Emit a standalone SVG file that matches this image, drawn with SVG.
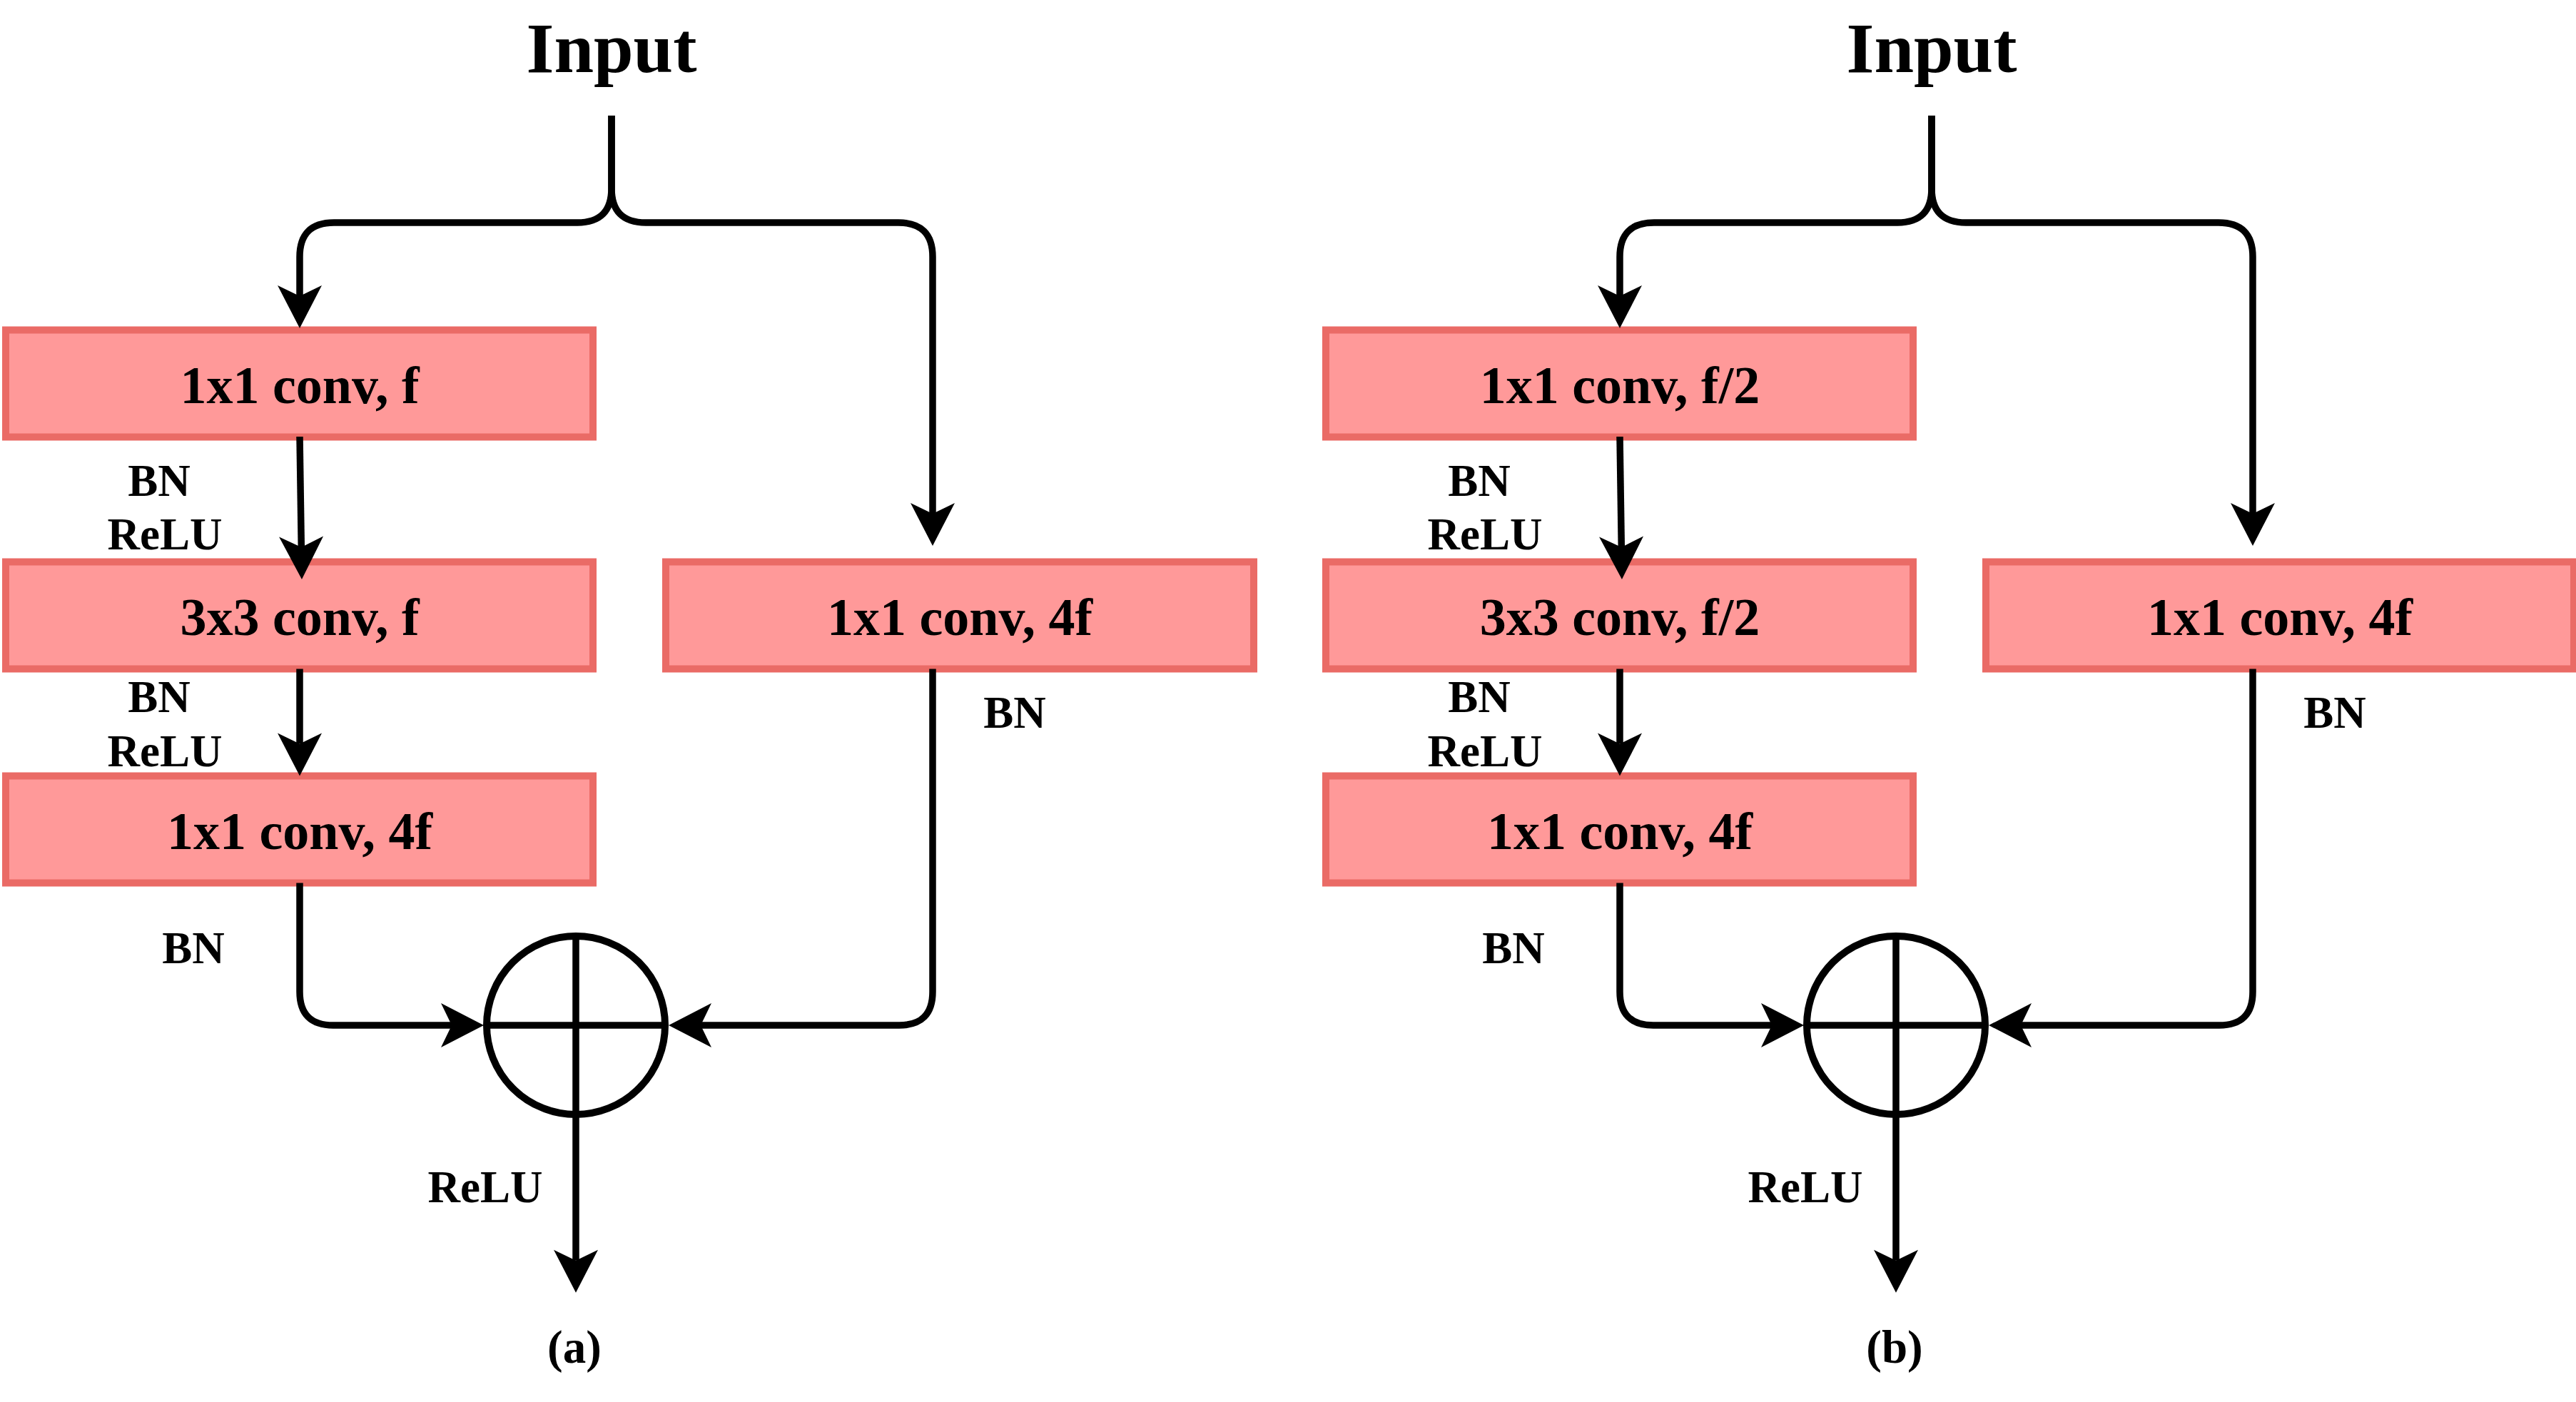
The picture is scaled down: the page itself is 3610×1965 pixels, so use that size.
<svg xmlns="http://www.w3.org/2000/svg" width="3610" height="1965" viewBox="0 0 3610 1965">
<style>
  .box { fill: #FF9999; stroke: #EA6B66; stroke-width: 10; }
  .edge { fill: none; stroke: #000; stroke-width: 9.5; }
  .ring { fill: none; stroke: #000; stroke-width: 10; }
  text { font-family: "Liberation Serif", "Times New Roman", serif; font-weight: bold; fill: #000; text-anchor: middle; }
  .title { font-size: 100px; }
  .lbl { font-size: 74px; }
  .note { font-size: 63px; }
  .cap { font-size: 65px; }
</style>
<defs>
  <marker id="arr" markerUnits="userSpaceOnUse" viewBox="0 0 60 62" markerWidth="60" markerHeight="62" refX="15" refY="31" orient="auto" overflow="visible">
    <path d="M0,0 L60,31 L0,62 L15,31 Z" fill="#000"/>
  </marker>
</defs>
<rect width="3610" height="1965" fill="#fff"/>

<g id="panel-a">
  <g id="a-input"><text class="title" x="857" y="101">Input</text></g>
  <g id="a-conv1"><rect class="box" x="8" y="462.5" width="823" height="150"/><text class="lbl" x="420" y="565">1x1 conv, f</text></g>
  <g id="a-conv2"><rect class="box" x="8" y="787.5" width="823" height="150"/><text class="lbl" x="420" y="890">3x3 conv, f</text></g>
  <g id="a-conv3"><rect class="box" x="8" y="1087.5" width="823" height="150"/><text class="lbl" x="420" y="1190">1x1 conv, 4f</text></g>
  <g id="a-short"><rect class="box" x="933" y="787.5" width="824" height="150"/><text class="lbl" x="1345" y="890">1x1 conv, 4f</text></g>
  <g id="a-add">
    <circle class="ring" cx="807" cy="1437" r="125"/>
    <path class="edge" d="M682,1437 H932 M807,1312 V1562"/>
  </g>
  <g id="a-labels">
    <text class="note" x="223" y="695">BN</text>
    <text class="note" x="231" y="770">ReLU</text>
    <text class="note" x="223" y="998">BN</text>
    <text class="note" x="231" y="1074">ReLU</text>
    <text class="note" x="271" y="1350">BN</text>
    <text class="note" x="1422" y="1020">BN</text>
    <text class="note" x="680" y="1685">ReLU</text>
    <text class="cap" x="805" y="1910">(a)</text>
  </g>
  <g id="a-connectors">
    <path class="edge" marker-end="url(#arr)" d="M857,162 V264 Q857,312 809,312 H468 Q420,312 420,360 V415"/>
    <path class="edge" marker-end="url(#arr)" d="M857,162 V264 Q857,312 905,312 H1259 Q1307,312 1307,360 V720"/>
    <path class="edge" marker-end="url(#arr)" d="M420,612 L422.3,767"/>
    <path class="edge" marker-end="url(#arr)" d="M420,937.5 V1042.5"/>
    <path class="edge" marker-end="url(#arr)" d="M420,1237.5 V1390 Q420,1437 467,1437 H633"/>
    <path class="edge" marker-end="url(#arr)" d="M1307,937.5 V1390 Q1307,1437 1260,1437 H982"/>
    <path class="edge" marker-end="url(#arr)" d="M807,1562 V1766.7"/>
  </g>
</g>

<g id="panel-b" transform="translate(1850,0)">
  <g id="b-input"><text class="title" x="857" y="101">Input</text></g>
  <g id="b-conv1"><rect class="box" x="8" y="462.5" width="823" height="150"/><text class="lbl" x="420" y="565">1x1 conv, f/2</text></g>
  <g id="b-conv2"><rect class="box" x="8" y="787.5" width="823" height="150"/><text class="lbl" x="420" y="890">3x3 conv, f/2</text></g>
  <g id="b-conv3"><rect class="box" x="8" y="1087.5" width="823" height="150"/><text class="lbl" x="420" y="1190">1x1 conv, 4f</text></g>
  <g id="b-short"><rect class="box" x="933" y="787.5" width="824" height="150"/><text class="lbl" x="1345" y="890">1x1 conv, 4f</text></g>
  <g id="b-add">
    <circle class="ring" cx="807" cy="1437" r="125"/>
    <path class="edge" d="M682,1437 H932 M807,1312 V1562"/>
  </g>
  <g id="b-labels">
    <text class="note" x="223" y="695">BN</text>
    <text class="note" x="231" y="770">ReLU</text>
    <text class="note" x="223" y="998">BN</text>
    <text class="note" x="231" y="1074">ReLU</text>
    <text class="note" x="271" y="1350">BN</text>
    <text class="note" x="1422" y="1020">BN</text>
    <text class="note" x="680" y="1685">ReLU</text>
    <text class="cap" x="805" y="1910">(b)</text>
  </g>
  <g id="b-connectors">
    <path class="edge" marker-end="url(#arr)" d="M857,162 V264 Q857,312 809,312 H468 Q420,312 420,360 V415"/>
    <path class="edge" marker-end="url(#arr)" d="M857,162 V264 Q857,312 905,312 H1259 Q1307,312 1307,360 V720"/>
    <path class="edge" marker-end="url(#arr)" d="M420,612 L422.3,767"/>
    <path class="edge" marker-end="url(#arr)" d="M420,937.5 V1042.5"/>
    <path class="edge" marker-end="url(#arr)" d="M420,1237.5 V1390 Q420,1437 467,1437 H633"/>
    <path class="edge" marker-end="url(#arr)" d="M1307,937.5 V1390 Q1307,1437 1260,1437 H982"/>
    <path class="edge" marker-end="url(#arr)" d="M807,1562 V1766.7"/>
  </g>
</g>
</svg>
